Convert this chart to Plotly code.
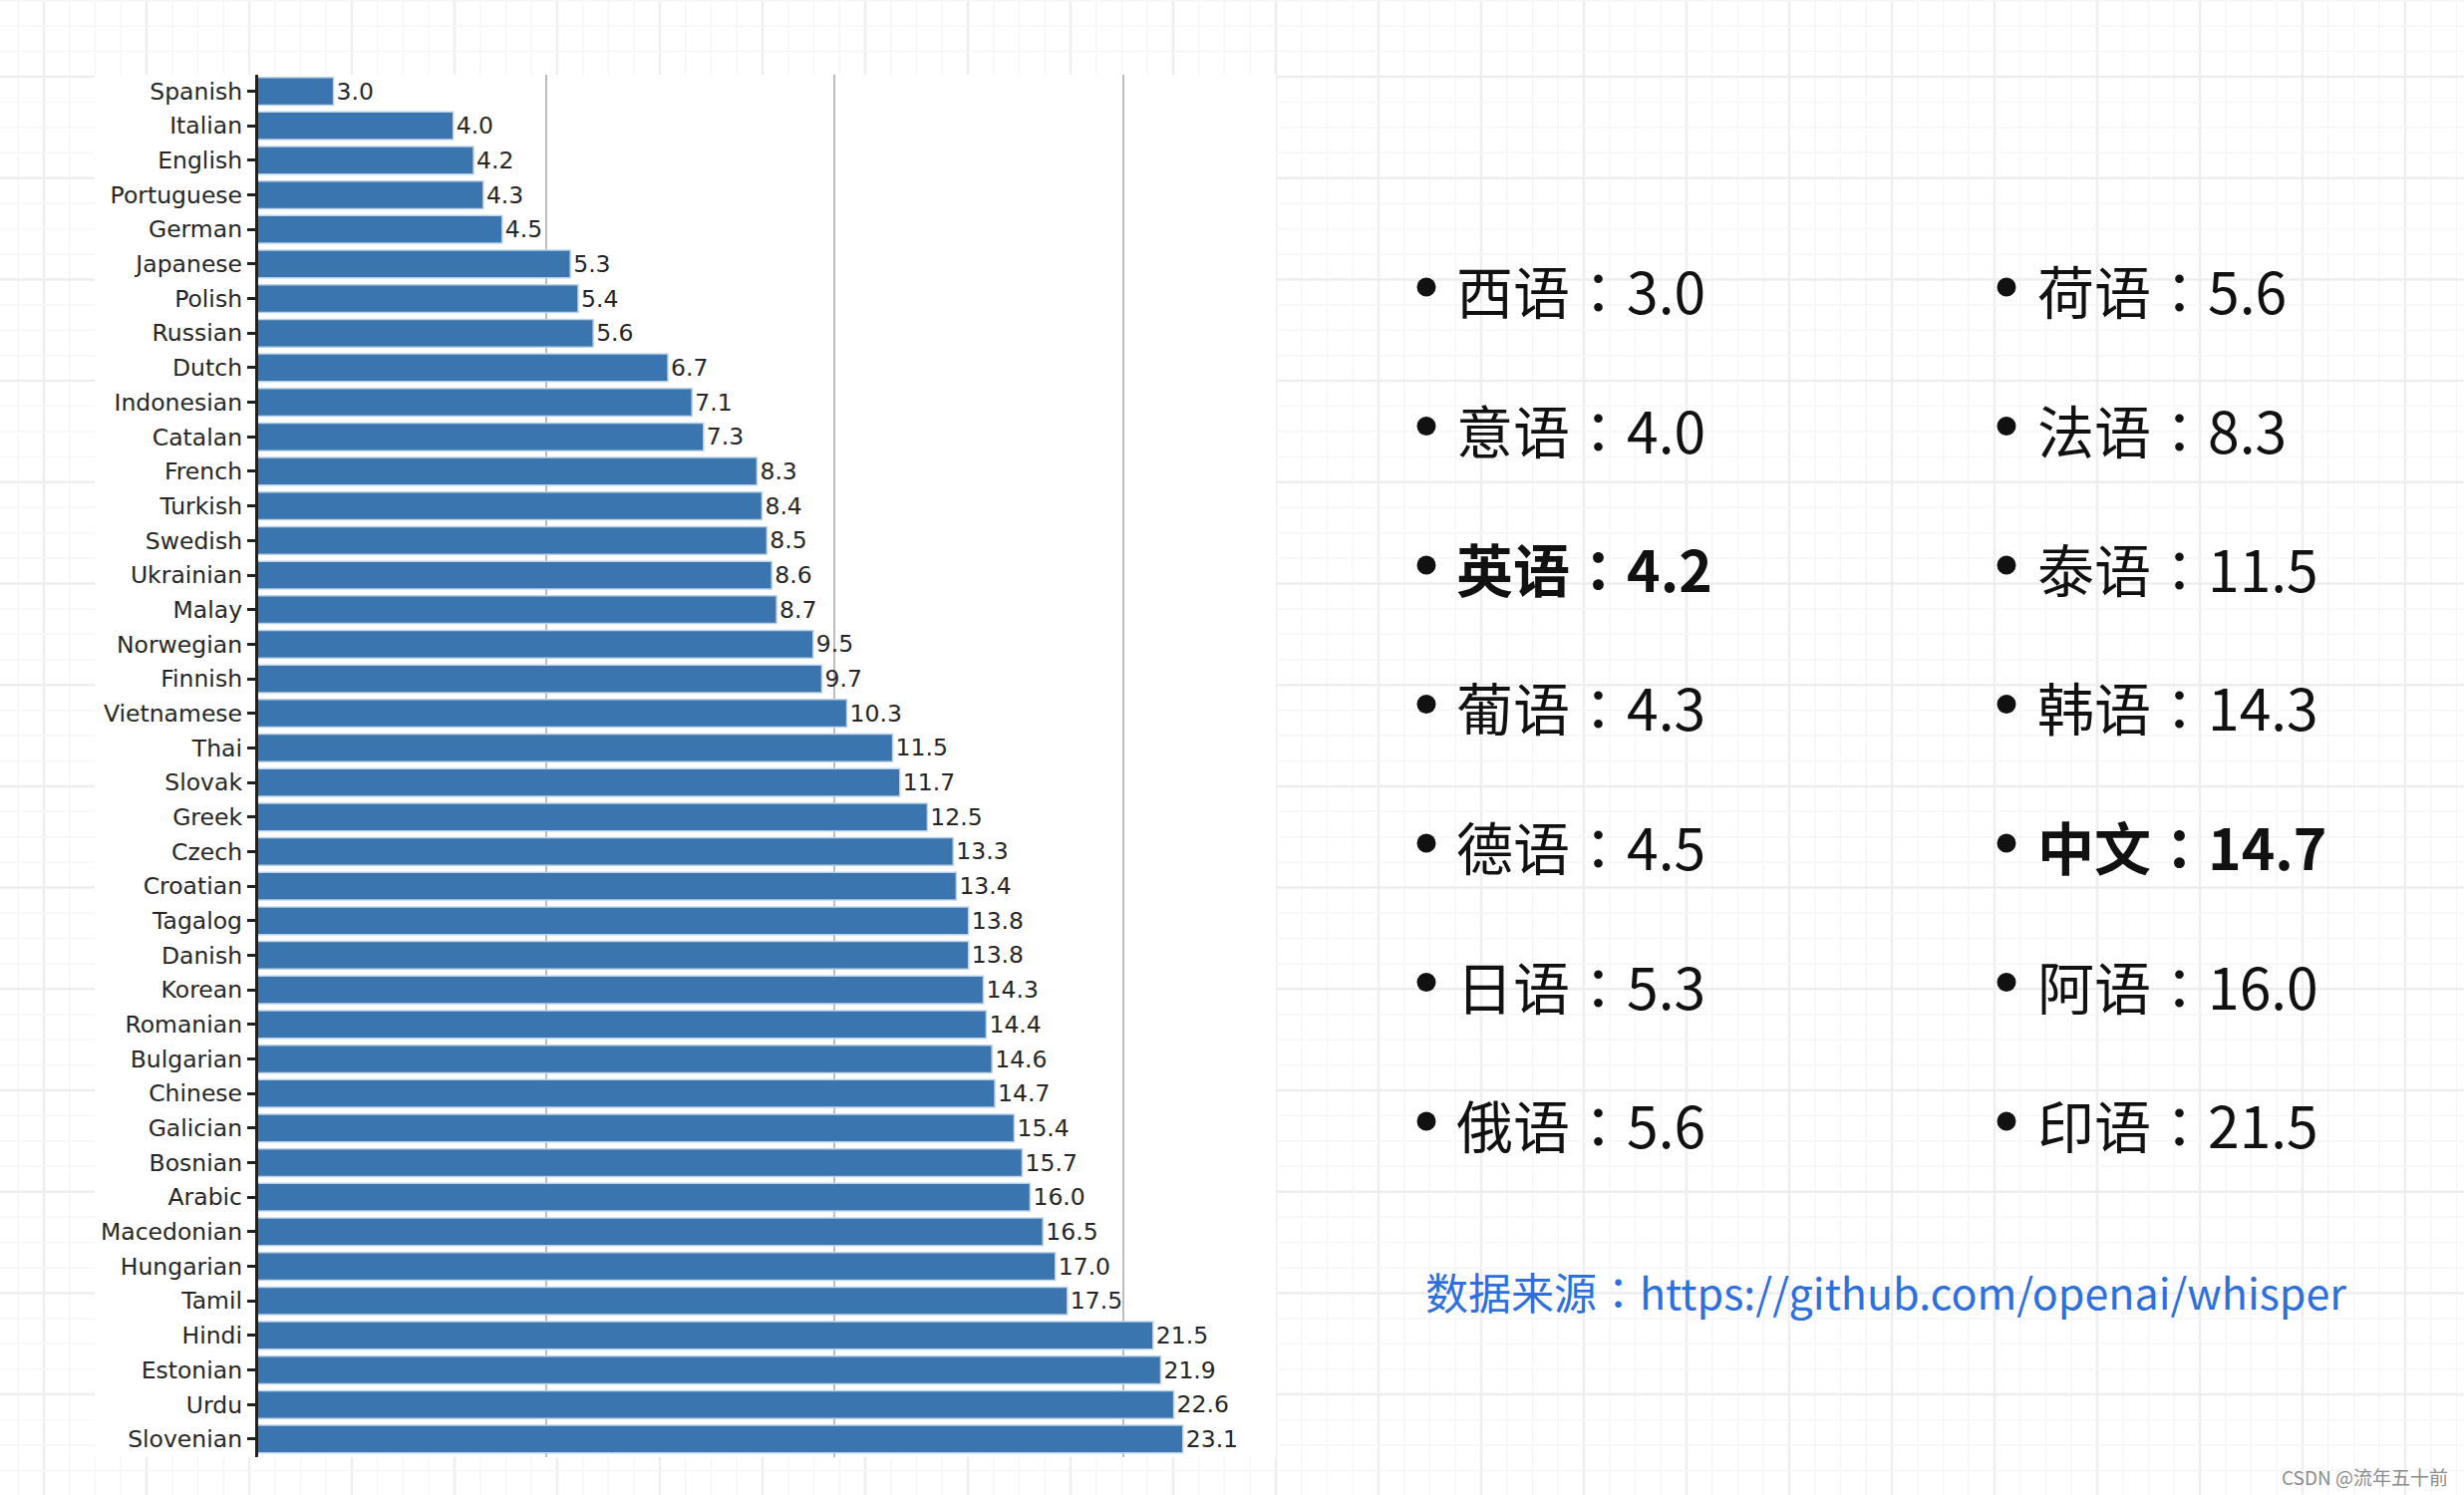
import math
import plotly.graph_objects as go

W, H = 2472, 1500

# ---------------- data ----------------
languages = ["Spanish", "Italian", "English", "Portuguese", "German", "Japanese", "Polish",
             "Russian", "Dutch", "Indonesian", "Catalan", "French", "Turkish", "Swedish",
             "Ukrainian", "Malay", "Norwegian", "Finnish", "Vietnamese", "Thai", "Slovak",
             "Greek", "Czech", "Croatian", "Tagalog", "Danish", "Korean", "Romanian",
             "Bulgarian", "Chinese", "Galician", "Bosnian", "Arabic", "Macedonian",
             "Hungarian", "Tamil", "Hindi", "Estonian", "Urdu", "Slovenian"]
wer = [3.0, 4.0, 4.2, 4.3, 4.5, 5.3, 5.4, 5.6, 6.7, 7.1, 7.3, 8.3, 8.4, 8.5, 8.6, 8.7,
       9.5, 9.7, 10.3, 11.5, 11.7, 12.5, 13.3, 13.4, 13.8, 13.8, 14.3, 14.4, 14.6, 14.7,
       15.4, 15.7, 16.0, 16.5, 17.0, 17.5, 21.5, 21.9, 22.6, 23.1]
grid_ticks = [5, 10, 20]

col1_names = ["西语", "意语", "英语", "葡语", "德语", "日语", "俄语"]
col1_values = [3.0, 4.0, 4.2, 4.3, 4.5, 5.3, 5.6]
col1_bold = [False, False, True, False, False, False, False]
col2_names = ["荷语", "法语", "泰语", "韩语", "中文", "阿语", "印语"]
col2_values = [5.6, 8.3, 11.5, 14.3, 14.7, 16.0, 21.5]
col2_bold = [False, False, False, False, True, False, False]
source_label = "数据来源"
source_url = "https://github.com/openai/whisper"
watermark = "CSDN @流年五十前"

COLON = "<span style=\"font-family:'Noto Sans CJK TC'\">：</span>"


def px(x):
    return x / W


def py(y):
    return 1 - y / H


shapes = []
# background notebook grid
x = 44 - 103
while x < W + 30:
    for j in range(4):
        xx = x + j * 25.75
        if 0 <= xx <= W:
            major = j == 0
            shapes.append(dict(type="line", xref="paper", yref="paper",
                               x0=px(xx), x1=px(xx), y0=0, y1=1, layer="below",
                               line=dict(color="#eeeeee" if major else "#f6f6f6",
                                         width=2.5 if major else 1.5)))
    x += 103
y = 77 - 101.7
while y < H + 30:
    for j in range(4):
        yy = y + j * 25.425
        if 0 <= yy <= H:
            major = j == 0
            shapes.append(dict(type="line", xref="paper", yref="paper",
                               x0=0, x1=1, y0=py(yy), y1=py(yy), layer="below",
                               line=dict(color="#eeeeee" if major else "#f6f6f6",
                                         width=2.5 if major else 1.5)))
    y += 101.7

# white chart panel
shapes.append(dict(type="rect", xref="paper", yref="paper", x0=px(95), x1=px(1280),
                   y0=py(1462), y1=py(75), layer="below", fillcolor="white",
                   line=dict(width=0)))

fig = go.Figure()
fig.add_trace(go.Bar(
    x=wer, y=languages, orientation="h",
    text=[f"{v:.1f}" for v in wer], textposition="outside",
    textfont=dict(family="DejaVu Sans", size=23.5, color="#262626"),
    cliponaxis=False, constraintext="none",
    marker=dict(color="#3a75af", line=dict(color="#bcd2e8", width=1.5)),
    hoverinfo="skip",
))

ann = []
row_y0 = 290
row_step = 139.5
for names, vals, bolds, tx, bx in [(col1_names, col1_values, col1_bold, 1459, 1431),
                                    (col2_names, col2_values, col2_bold, 2042, 2013)]:
    for i, (n, v, b) in enumerate(zip(names, vals, bolds)):
        yy = row_y0 + i * row_step
        label = f"{n}{COLON}{v:.1f}"
        if b:
            label = f"<b>{label}</b>"
        ann.append(dict(x=px(tx), y=py(yy), xref="paper", yref="paper", text=label,
                        showarrow=False, xanchor="left", yanchor="middle",
                        font=dict(family="Noto Sans CJK SC", size=57, color="#111111")))
        shapes.append(dict(type="circle", xref="paper", yref="paper",
                           x0=px(bx - 9.5), x1=px(bx + 9.5),
                           y0=py(yy + 7.5), y1=py(yy - 11.5),
                           fillcolor="#111111", line=dict(width=0)))

ann.append(dict(x=px(1428), y=py(1295), xref="paper", yref="paper",
                text=f"{source_label}{COLON}{source_url}",
                showarrow=False, xanchor="left", yanchor="middle",
                font=dict(family="Noto Sans CJK SC", size=43, color="#2e6fde")))
ann.append(dict(x=px(2458), y=py(1481), xref="paper", yref="paper", text=watermark,
                showarrow=False, xanchor="right", yanchor="middle",
                font=dict(family="Noto Sans CJK SC", size=19, color="#8c8c8c")))

fig.update_layout(
    width=W, height=H,
    margin=dict(l=0, r=0, t=0, b=0),
    paper_bgcolor="white", plot_bgcolor="rgba(0,0,0,0)",
    showlegend=False, bargap=0.2,
    shapes=shapes, annotations=ann,
    xaxis=dict(type="log", domain=[px(258.5), px(1270)],
               range=[math.log10(2.5), math.log10(28.2)],
               tickvals=grid_ticks, showticklabels=False, ticks="",
               showgrid=True, gridcolor="#bdbdbd", gridwidth=2,
               zeroline=False, showline=False),
    yaxis=dict(type="category", domain=[py(1462), py(75)],
               categoryorder="array", categoryarray=languages,
               range=[39.52, -0.476], showgrid=False, zeroline=False,
               showline=True, linecolor="#222222", linewidth=2.5,
               ticks="outside", ticklen=8, tickwidth=2.5, tickcolor="#222222",
               ticklabelstandoff=0,
               tickfont=dict(family="DejaVu Sans", size=23.5, color="#262626")),
)

fig.write_html("out.html")
